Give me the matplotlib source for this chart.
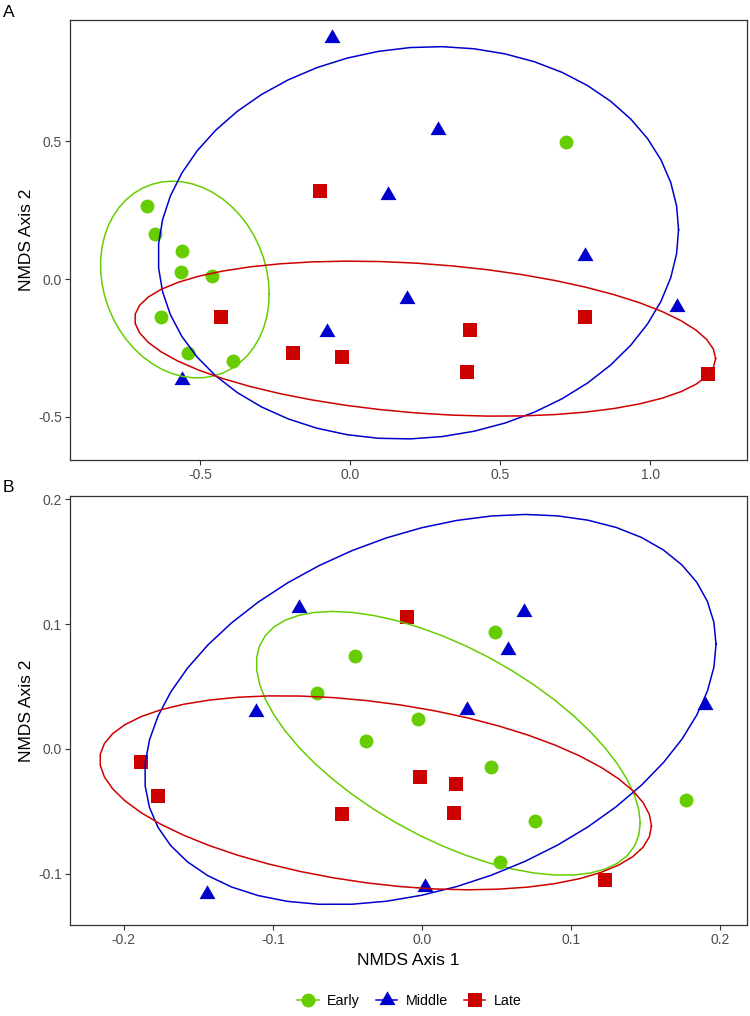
import numpy as np
import matplotlib
matplotlib.use("Agg")
import matplotlib.pyplot as plt
from matplotlib.lines import Line2D
from matplotlib.path import Path

plt.rcParams['font.family'] = ['Liberation Sans', 'DejaVu Sans']

# ---- data ----
groups = ["Early", "Middle", "Late"]

# panel A
a_early_x = [-0.677, -0.650, -0.560, -0.564, -0.460, -0.632, -0.539, -0.391, 0.718]
a_early_y = [0.265, 0.162, 0.102, 0.027, 0.011, -0.137, -0.267, -0.298, 0.498]
a_middle_x = [-0.062, -0.559, -0.079, 0.293, 0.125, 0.782, 0.188, 1.088]
a_middle_y = [0.874, -0.367, -0.193, 0.541, 0.305, 0.085, -0.073, -0.100]
a_late_x = [-0.101, -0.429, -0.192, -0.028, 0.400, 0.388, 0.781, 1.193]
a_late_y = [0.319, -0.139, -0.270, -0.283, -0.185, -0.338, -0.138, -0.346]

# panel B
b_early_x = [-0.0446, -0.0705, -0.0378, 0.0492, -0.0023, 0.0461, 0.0760, 0.0523, 0.1772]
b_early_y = [0.0747, 0.0448, 0.0062, 0.0939, 0.0238, -0.0142, -0.0574, -0.0907, -0.0408]
b_middle_x = [-0.0821, -0.1112, -0.1439, 0.0682, 0.0575, 0.0302, 0.1897, 0.0022]
b_middle_y = [0.1126, 0.0299, -0.1163, 0.1099, 0.0793, 0.0312, 0.0350, -0.1107]
b_late_x = [-0.1882, -0.1772, -0.0535, -0.0099, -0.0016, 0.0230, 0.0215, 0.1228]
b_late_y = [-0.0101, -0.0374, -0.0520, 0.1054, -0.0221, -0.0280, -0.0510, -0.1049]

colors = {"Early": "#66CD00", "Middle": "#0000CD", "Late": "#CD0000"}
ell_level = 0.80

# equilateral triangle like R pch 17
tri = Path([(0, 1.1547), (-1, -0.5774), (1, -0.5774), (0, 1.1547)],
           [Path.MOVETO, Path.LINETO, Path.LINETO, Path.CLOSEPOLY])
markers = {"Early": ("o", 10.0), "Middle": (tri, 13.3), "Late": ("s", 9.4)}


def cov_trob(xy, nu=5, maxit=25, tol=0.01):
    # same as MASS::cov.trob, used by ggplot stat_ellipse(type="t")
    n, p = xy.shape
    wt = np.ones(n)
    loc = xy.mean(axis=0)
    w = np.sqrt(wt)
    for i in range(maxit):
        w0 = w
        X = xy - loc
        U, d, Vt = np.linalg.svd(np.sqrt(w / w.sum())[:, None] * X, full_matrices=False)
        wX = X @ Vt.T @ np.diag(1 / d)
        Q = (wX ** 2).sum(axis=1)
        w = wt * (nu + p) / (nu + Q)
        loc = (w[:, None] * xy).sum(axis=0) / w.sum()
        if np.all(np.abs(w - w0) < tol):
            break
    sx = np.sqrt(w)[:, None] * X
    cov = sx.T @ sx / wt.sum()
    return loc, cov


def ellipse_pts(x, y, level=0.95, segments=51):
    xy = np.column_stack([x, y])
    center, shape = cov_trob(xy)
    dfd = len(x) - 1
    qf = dfd / 2 * ((1 - level) ** (-2 / dfd) - 1)
    radius = np.sqrt(2 * qf)
    ang = np.arange(segments + 1) * 2 * np.pi / segments
    circ = np.column_stack([np.cos(ang), np.sin(ang)])
    R = np.linalg.cholesky(shape).T
    e = center + radius * (circ @ R)
    return e[:, 0], e[:, 1]


def draw_panel(ax, data, xlim, ylim, xticks, yticks):
    for g in groups:
        x, y = data[g]
        m, ms = markers[g]
        ax.plot(x, y, linestyle="none", marker=m, markersize=ms,
                color=colors[g], markeredgewidth=0, zorder=2)
    for g in groups:
        x, y = data[g]
        ex, ey = ellipse_pts(np.array(x), np.array(y), level=ell_level)
        ax.plot(ex, ey, color=colors[g], lw=1.1, zorder=3)
    ax.set_xlim(xlim)
    ax.set_ylim(ylim)
    ax.set_xticks(xticks)
    ax.set_yticks(yticks)
    ax.set_xticklabels(["%.1f" % t for t in xticks])
    ax.set_yticklabels(["%.1f" % t for t in yticks])
    ax.tick_params(colors="#333333", labelcolor="#4D4D4D", labelsize=10,
                   length=3.5, width=0.8, pad=2.5)
    for s in ax.spines.values():
        s.set_color("#333333")
        s.set_linewidth(0.9)
    ax.set_ylabel("NMDS Axis 2", fontsize=12.5, labelpad=3)


fig = plt.figure(figsize=(7.5, 10.16), dpi=100)
axA = fig.add_axes([0.0937, 0.5472, 0.9017, 0.4328])
axB = fig.add_axes([0.0937, 0.0899, 0.9017, 0.4219])

data_a = {"Early": (a_early_x, a_early_y), "Middle": (a_middle_x, a_middle_y),
          "Late": (a_late_x, a_late_y)}
data_b = {"Early": (b_early_x, b_early_y), "Middle": (b_middle_x, b_middle_y),
          "Late": (b_late_x, b_late_y)}

draw_panel(axA, data_a, (-0.933, 1.321), (-0.657, 0.939),
           [-0.5, 0.0, 0.5, 1.0], [-0.5, 0.0, 0.5])
draw_panel(axB, data_b, (-0.2358, 0.2177), (-0.1407, 0.2026),
           [-0.2, -0.1, 0.0, 0.1, 0.2], [-0.1, 0.0, 0.1, 0.2])
axB.set_xlabel("NMDS Axis 1", fontsize=12.5, labelpad=4)

fig.text(0.004, 0.988, "A", fontsize=12.5, va="center", ha="left")
fig.text(0.004, 0.5202, "B", fontsize=12.5, va="center", ha="left")

handles = []
for g in groups:
    m, ms = markers[g]
    handles.append(Line2D([], [], color=colors[g], marker=m, markersize=ms,
                          markeredgewidth=0, lw=1.1, label=g))
fig.legend(handles=handles, loc="center", bbox_to_anchor=(0.546, 0.0148),
           ncol=3, frameon=False, fontsize=10.3, handlelength=1.5,
           columnspacing=1.1, handletextpad=0.6)

fig.savefig("out.png", dpi=100)
